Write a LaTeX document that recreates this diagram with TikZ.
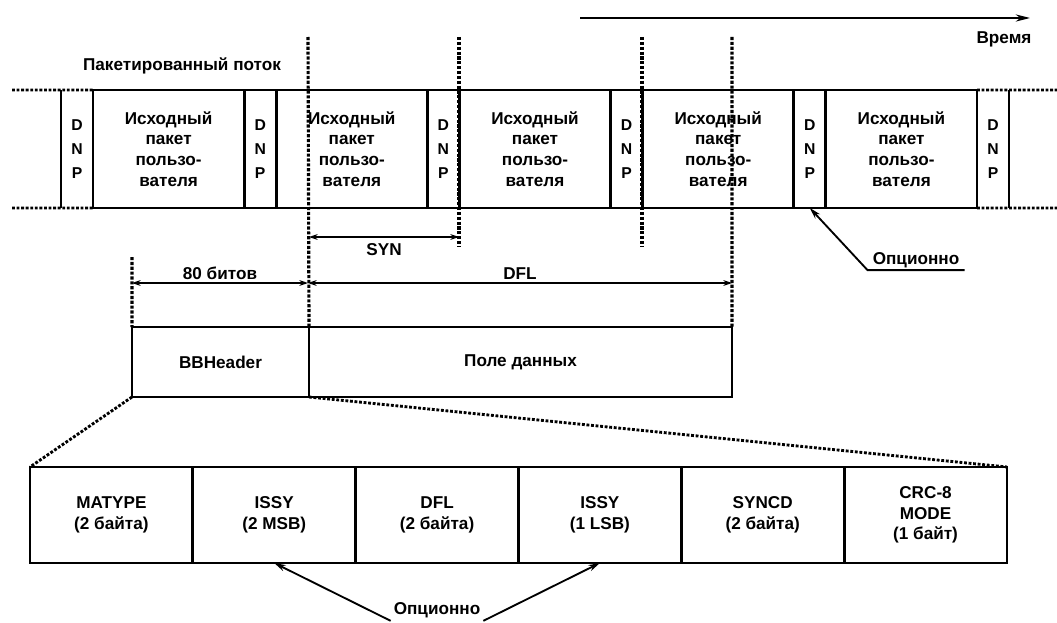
\documentclass[tikz,border=0pt]{standalone}
\usepackage{fontspec}
\setmainfont{Liberation Sans}
\usetikzlibrary{positioning,arrows.meta}
\tikzstyle{cell} = [rectangle,
                    draw=black,
                    line width=2pt,
                    inner sep=0pt,
                    outer sep=0pt,
                    minimum height=82.6pt,
                    align=center,
                    font=\bfseries\fontsize{12}{14.5}\selectfont]
\tikzstyle{dnp} = [cell, minimum width=22.4pt, font=\bfseries\fontsize{11}{17}\selectfont]
\tikzstyle{dnpend} = [dnp, draw=none]
\tikzstyle{pkt} = [cell, minimum width=105.84pt]
\tikzstyle{field} = [cell, minimum width=113.98pt, minimum height=67.2pt]
\tikzstyle{hdr} = [cell, minimum height=49pt]
\tikzstyle{lbl} = [inner sep=2pt, font=\bfseries\fontsize{12}{14.5}\selectfont]
\tikzstyle{vdash} = [line width=2.2pt, dash pattern=on 2.2pt off 1.2pt]
\tikzstyle{dotline} = [line width=2pt, dash pattern=on 2pt off 1.2pt]
\tikzstyle{dim} = [line width=1.1pt, >={Stealth[length=6pt,width=4pt]}, <->]
\tikzstyle{lead} = [line width=1.3pt, >={Stealth[length=8pt,width=4.5pt]}, ->]
\tikzstyle{timearrow} = [line width=1.3pt, >={Stealth[length=10pt,width=5pt]}, ->]

\begin{document}
\begin{tikzpicture}[x=0.7pt,y=-0.7pt]
\useasboundingbox (0,0) rectangle (1057,622);

% packet stream
\node (d1) [dnpend] at (77,149) {D\\N\\P};
\node (p1) [pkt, right=0pt of d1] {Исходный\\пакет\\пользо-\\вателя};
\node (d2) [dnp, right=0pt of p1] {D\\N\\P};
\node (p2) [pkt, right=0pt of d2] {Исходный\\пакет\\пользо-\\вателя};
\node (d3) [dnp, right=0pt of p2] {D\\N\\P};
\node (p3) [pkt, right=0pt of d3] {Исходный\\пакет\\пользо-\\вателя};
\node (d4) [dnp, right=0pt of p3] {D\\N\\P};
\node (p4) [pkt, right=0pt of d4] {Исходный\\пакет\\пользо-\\вателя};
\node (d5) [dnp, right=0pt of p4] {D\\N\\P};
\node (p5) [pkt, right=0pt of d5] {Исходный\\пакет\\пользо-\\вателя};
\node (d6) [dnpend, right=0pt of p5] {D\\N\\P};
\draw[line width=2pt] (d1.north west) -- (d1.south west) (d6.north east) -- (d6.south east);
\draw[dotline] (12,90) -- (p1.north west) (12,208) -- (p1.south west);
\draw[dotline] (p5.north east) -- (1057,90) (p5.south east) -- (1057,208);

\node (stream) [lbl] at (182,66) {Пакетированный поток};
\coordinate (t0) at (580,18);
\coordinate (t1) at (1030,18);
\draw[timearrow] (t0) -- (t1);
\node (time) [lbl] at (1004,39) {Время};

% BBFrame
\node (bb) [hdr, minimum width=123.9pt] at (220.5,362) {BBHeader};
\node (pd) [hdr, minimum width=296.1pt, right=0pt of bb] {Поле данных};

% markers
\draw[vdash] (308,37) -- (bb.north east);
\draw[vdash] (459,37) -- (459,247);
\draw[vdash] (642,37) -- (642,247);
\draw[vdash] (732,37) -- (pd.north east);
\draw[vdash] (132,257) -- (bb.north west);

\coordinate (s1) at (309,237);
\coordinate (s2) at (459,237);
\coordinate (m1) at (132,283);
\coordinate (m2) at (308,283);
\coordinate (m3) at (732,283);
\draw[dim] (s1) -- node[lbl, below=2pt] {SYN} (s2);
\draw[dim] (m1) -- node[lbl, above] {80 битов} (m2);
\draw[dim] (m2) -- node[lbl, above] {DFL} (m3);

\node (opt1) [lbl, inner xsep=3.5pt, inner ysep=1.5pt] at (916,260) {Опционно};
\draw[lead] (opt1.south east) -- (opt1.south west) -- (d5.south);

% header fields
\node (f1) [field] at (111.4,515) {MATYPE\\(2 байта)};
\node (f2) [field, right=0pt of f1] {ISSY\\(2 MSB)};
\node (f3) [field, right=0pt of f2] {DFL\\(2 байта)};
\node (f4) [field, right=0pt of f3] {ISSY\\(1 LSB)};
\node (f5) [field, right=0pt of f4] {SYNCD\\(2 байта)};
\node (f6) [field, right=0pt of f5] {CRC-8\\MODE\\(1 байт)};
\draw[dotline] (bb.south west) -- (f1.north west);
\draw[dotline] (bb.south east) -- (f6.north east);

\node (opt2) [lbl] at (437,610) {Опционно};
\draw[lead] (opt2.south west) -- (f2.south);
\draw[lead] (opt2.south east) -- (f4.south);
\end{tikzpicture}
\end{document}
